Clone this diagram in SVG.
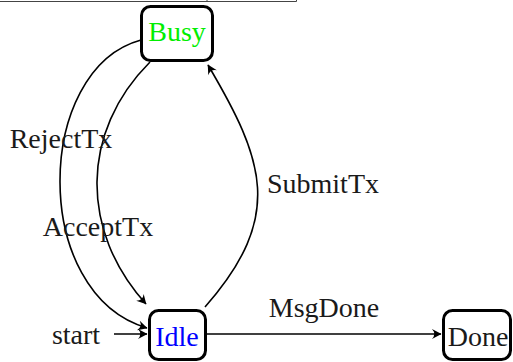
<svg xmlns="http://www.w3.org/2000/svg" width="513" height="362" viewBox="0 0 513 362">
  <style>
    .node rect { fill: #ffffff; stroke: #000000; stroke-width: 3; }
    .lbl { font-family: "Liberation Serif", "Times New Roman", serif; font-size: 28px; fill: #1a1a1a; text-anchor: middle; }
    .edge { fill: none; stroke: #000000; stroke-width: 1.6; marker-end: url(#head); }
    .frame { fill: none; stroke: #444444; stroke-width: 1; }
  </style>
  <defs>
    <!-- notched arrowhead shared by every connector -->
    <marker id="head" markerUnits="userSpaceOnUse" markerWidth="14" markerHeight="14" viewBox="-12 -7 14 14" refX="0" refY="0" orient="auto">
      <path d="M0.5,0 L-9,-5 Q-4.5,0 -9,5 Z" fill="#000000"/>
    </marker>
  </defs>

  <!-- frame edge along the top -->
  <path class="frame" d="M0,1.5 H296.5 V0 M207,0 V1.5"/>

  <!-- connectors -->
  <g id="edges">
    <path class="edge" d="M114,334 H147"/>
    <path class="edge" d="M206,334 H441"/>
    <path class="edge" d="M205,307 C285,216 264,160 208,65"/>
    <path class="edge" d="M150,62 C80,132 80,231 146,304"/>
    <path class="edge" d="M141,40 C34,69 30,294 147,328"/>
  </g>

  <!-- edge labels -->
  <g id="labels">
    <text class="lbl" x="61" y="148">RejectTx</text>
    <text class="lbl" x="98" y="236">AcceptTx</text>
    <text class="lbl" x="323" y="193">SubmitTx</text>
    <text class="lbl" x="324" y="317">MsgDone</text>
    <text class="lbl" x="76" y="344">start</text>
  </g>

  <g id="busy" class="node">
    <rect x="141.5" y="6.5" width="71" height="54" rx="9"/>
    <text class="lbl" x="177" y="41" style="fill:#00ee00">Busy</text>
  </g>
  <g id="idle" class="node">
    <rect x="149.5" y="310.5" width="56" height="49" rx="9"/>
    <text class="lbl" x="177" y="346" style="fill:#0000ff">Idle</text>
  </g>
  <g id="done" class="node">
    <rect x="443.5" y="310.5" width="67" height="49" rx="9"/>
    <text class="lbl" x="478" y="346">Done</text>
  </g>
</svg>
